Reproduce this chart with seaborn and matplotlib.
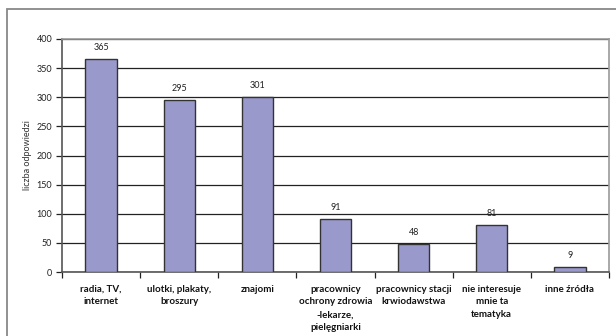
import matplotlib
matplotlib.use("Agg")
import matplotlib.pyplot as plt
from matplotlib.patches import Rectangle
import seaborn as sns
import pandas as pd

categories = [
    "radia, TV,\ninternet",
    "ulotki, plakaty,\nbroszury",
    "znajomi",
    "pracownicy\nochrony zdrowia\n-lekarze,\npielęgniarki",
    "pracownicy stacji\nkrwiodawstwa",
    "nie interesuje\nmnie ta\ntematyka",
    "inne źródła",
]
counts = [365, 295, 301, 91, 48, 81, 9]
y_ticks = [0, 50, 100, 150, 200, 250, 300, 350, 400]
y_label = "liczba odpowiedzi"

sns.set_theme(style="white")
plt.rcParams["font.family"] = ["Lato", "DejaVu Sans"]

df = pd.DataFrame({"kategoria": categories, "liczba": counts})

fig = plt.figure(figsize=(6.16, 3.36), dpi=100)
ax = fig.add_axes([62 / 616, 1 - 272 / 336, (609 - 62) / 616, (272 - 39) / 336])

sns.barplot(data=df, x="kategoria", y="liczba", ax=ax, color="#9999cc",
            saturation=1, width=0.4, edgecolor="#333333", linewidth=1.0, zorder=3)

ax.set_ylim(0, 400)
ax.set_xlim(-0.5, len(categories) - 0.5)
ax.set_yticks(y_ticks)
ax.set_yticklabels([str(t) for t in y_ticks], fontsize=6.5, color="#222222")
ax.yaxis.grid(True, color="#222222", linewidth=0.9, zorder=0)
ax.set_axisbelow(True)

# category separators as x ticks
ax.set_xticks([i - 0.5 for i in range(len(categories) + 1)], minor=False)
ax.set_xticklabels([])
ax.set_xticks(range(len(categories)), minor=True)
ax.set_xticklabels(categories, minor=True, fontsize=7, fontweight="bold",
                   color="#111111", va="top", linespacing=1.55)
ax.tick_params(axis="x", which="major", direction="out", length=4, width=0.9,
               color="#222222", bottom=True)
ax.tick_params(axis="x", which="minor", length=0, pad=9)
ax.tick_params(axis="y", direction="out", length=4, width=0.9, color="#222222",
               left=True, pad=3)

ax.set_xlabel("")
ax.set_ylabel(y_label, fontsize=6.5, color="#333333")
ax.yaxis.set_label_coords((28 - 62) / 547, 0.5)
ax.yaxis.label.set_va("center")

for side in ["left", "bottom"]:
    ax.spines[side].set_color("#555555")
    ax.spines[side].set_linewidth(1.2)
for side in ["top", "right"]:
    ax.spines[side].set_color("#999999")
    ax.spines[side].set_linewidth(1.2)

for i, v in enumerate(counts):
    ax.annotate(str(v), (i, v), xytext=(0, 5), textcoords="offset points",
                ha="center", va="bottom", fontsize=6.5, color="#222222")

# outer chart frame
fig.patches.append(Rectangle((7 / 616, -0.2), 1.2, 1 - 9 / 336 + 0.2,
                             transform=fig.transFigure, fill=False,
                             edgecolor="#888888", linewidth=1.3, clip_on=False))

fig.savefig("out.png", dpi=100, facecolor="white")
